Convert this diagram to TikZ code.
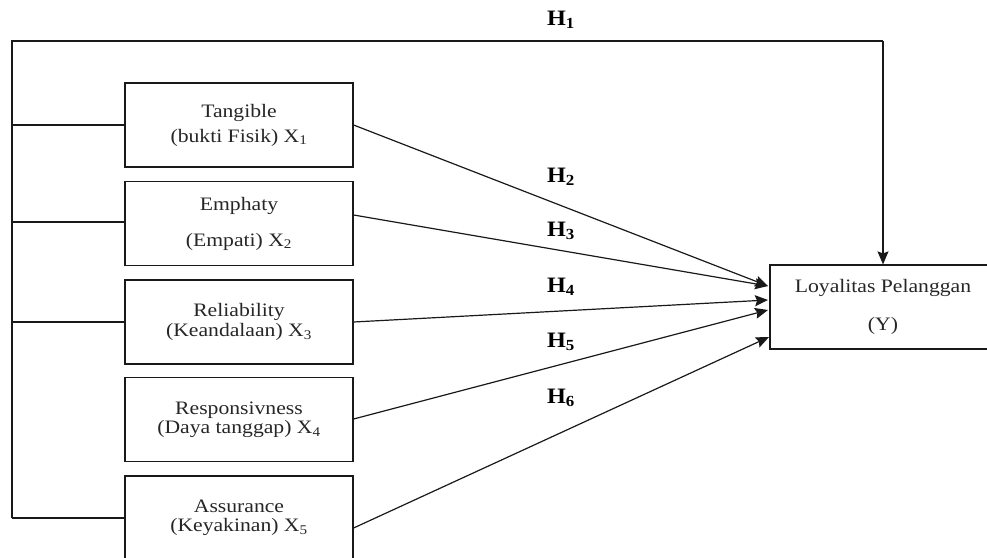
\documentclass[tikz,border=0pt]{standalone}
\usepackage{fontspec}
\setmainfont{Liberation Serif}
\newfontfamily\boxfont[FakeStretch=1.14]{Liberation Serif}
\newfontfamily\hfont[FakeStretch=1.1]{Liberation Serif}
\usetikzlibrary{arrows.meta}
\tikzset{
  line/.style={line width=1.2pt, draw=black!90},
  varbox/.style={line, rectangle, minimum width=228pt, minimum height=84pt, inner sep=0pt, align=center, font=\boxfont\fontsize{19pt}{19pt}\selectfont, text=black!85},
  hyp/.style={font=\hfont\fontsize{22pt}{22pt}\selectfont\bfseries, inner sep=0pt},
  arr/.style={line, -{Stealth[length=13pt,width=11pt,inset=2pt]}}
}
\begin{document}
\begin{tikzpicture}[x=1pt,y=-1pt]
\useasboundingbox (0,0) rectangle (987,557);
\node[varbox] (x1) at (239,125) {Tangible\\[6pt](bukti Fisik) X\textsubscript{1}};
\node[varbox] (x2) at (239,223.5) {Emphaty\\[17pt](Empati) X\textsubscript{2}};
\node[varbox] (x3) at (239,322) {Reliability\\[1pt](Keandalaan) X\textsubscript{3}};
\node[varbox] (x4) at (239,419.5) {Responsivness\\(Daya tanggap) X\textsubscript{4}};
\node[varbox] (x5) at (239,518) {Assurance\\(Keyakinan) X\textsubscript{5}};
\node[varbox, minimum width=226pt] (y) at (883,307) {Loyalitas Pelanggan\\[19pt](Y)};
% left bus
\coordinate (tl) at (12,41);
\coordinate (tr) at (883,41);
\coordinate (b1) at (12,125);
\coordinate (b2) at (12,222);
\coordinate (b3) at (12,322);
\coordinate (b5) at (12,518);
\draw[line] (b5) -- (tl) -- (tr);
\draw[arr] (tr) -- (y.north);
\draw[line] (b1) -- (x1.west |- b1);
\draw[line] (b2) -- (x2.west |- b2);
\draw[line] (b3) -- (x3.west |- b3);
\draw[line] (b5) -- (x5.west |- b5);
% arrows to Y
\coordinate (e2) at (768,286);
\coordinate (e4) at (768,300);
\coordinate (e5) at (768,310);
\coordinate (e6) at (769,337);
\draw[arr] (x1.east |- 0,125) -- (e2);
\draw[arr] (x2.east |- 0,215) -- (e2);
\draw[arr] (x3.east |- 0,322) -- (e4);
\draw[arr] (x4.east |- 0,419) -- (e5);
\draw[arr] (x5.east |- 0,528) -- (e6);
% labels
\node[hyp] (h1) at (561,20) {H\textsubscript{1}};
\node[hyp] (h2) at (561,177) {H\textsubscript{2}};
\node[hyp] (h3) at (561,231) {H\textsubscript{3}};
\node[hyp] (h4) at (561,287) {H\textsubscript{4}};
\node[hyp] (h5) at (561,342) {H\textsubscript{5}};
\node[hyp] (h6) at (561,398) {H\textsubscript{6}};
\end{tikzpicture}
\end{document}
